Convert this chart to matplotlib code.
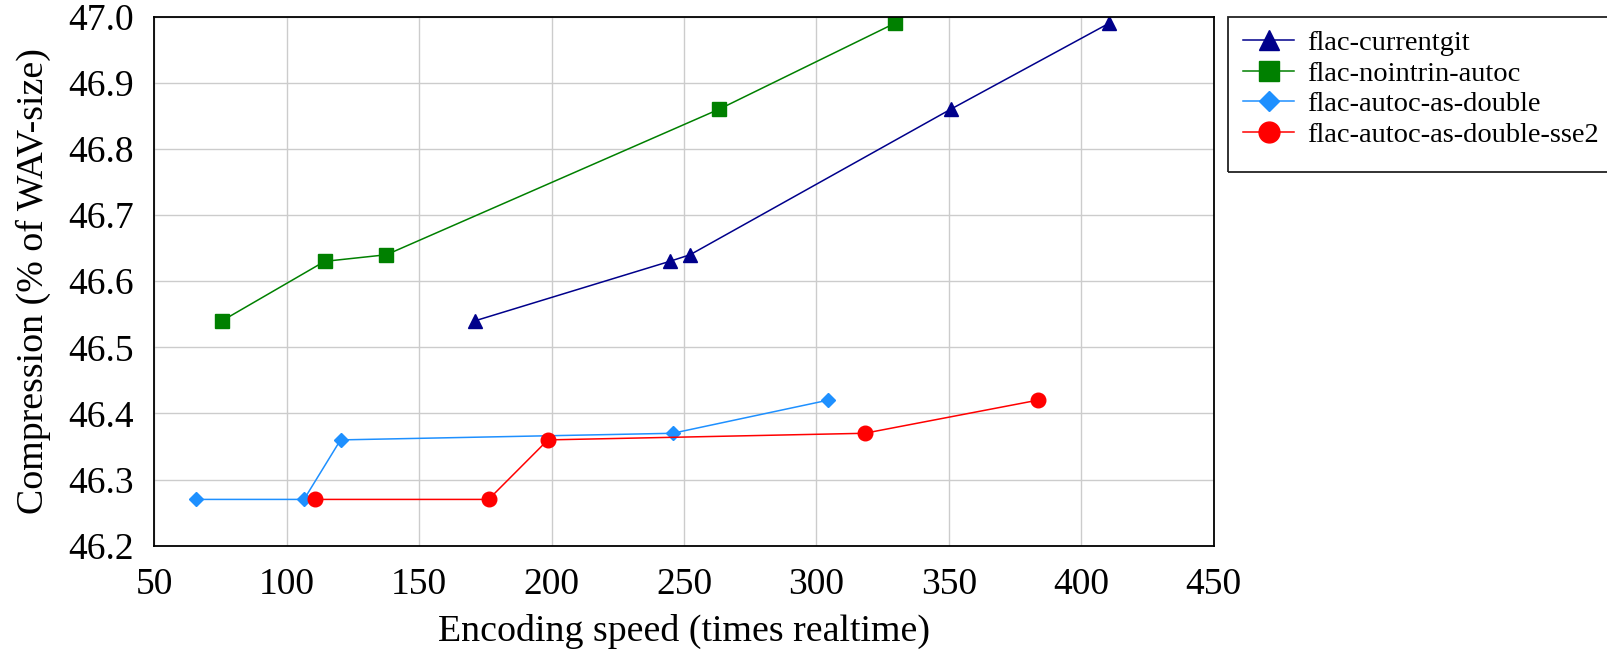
import numpy as np
import matplotlib
matplotlib.use('Agg')
import matplotlib.pyplot as plt
from matplotlib.patches import Rectangle

# series
speed_currentgit = [171, 244.6, 252.3, 350.7, 410.5]
comp_currentgit = [46.54, 46.63, 46.64, 46.86, 46.99]

speed_nointrin = [75.5, 114.3, 137.6, 263.2, 329.6]
comp_nointrin = [46.54, 46.63, 46.64, 46.86, 46.99]

speed_double = [65.8, 106.5, 120.3, 245.7, 304.3]
comp_double = [46.27, 46.27, 46.36, 46.37, 46.42]

speed_sse2 = [110.7, 176.2, 198.6, 318.2, 383.5]
comp_sse2 = [46.27, 46.27, 46.36, 46.37, 46.42]

labels = ['flac-currentgit', 'flac-nointrin-autoc',
          'flac-autoc-as-double', 'flac-autoc-as-double-sse2']

plt.rcParams['font.family'] = ['Liberation Serif', 'DejaVu Serif']
plt.rcParams['font.size'] = 26

W, H = 1608, 651
fig = plt.figure(figsize=(W / 100, H / 100), dpi=100)
ax = fig.add_axes([154.4 / W, 1 - 545.7 / H, (1213.6 - 154.4) / W, (545.7 - 16.7) / H])

ax.plot(speed_currentgit, comp_currentgit, '-^', color='#00008B', lw=1.1, ms=10.5, label=labels[0])
ax.plot(speed_nointrin, comp_nointrin, '-s', color='#008000', lw=1.1, ms=10.5, label=labels[1])
ax.plot(speed_double, comp_double, '-D', color='#1E90FF', lw=1.1, ms=7.2, label=labels[2])
ax.plot(speed_sse2, comp_sse2, '-o', color='#FF0000', lw=1.1, ms=10.5, label=labels[3])

ax.set_xlim(50, 450)
ax.set_ylim(46.2, 47.0)
ax.set_xticks(np.arange(50, 451, 50))
ax.set_yticks(np.arange(46.2, 47.01, 0.1))
ax.set_yticklabels(['%.1f' % v for v in np.arange(46.2, 47.01, 0.1)])
ax.tick_params(length=0, labelsize=27)
ax.tick_params(axis='x', pad=16)
ax.tick_params(axis='y', pad=15)
ax.grid(True, color='#cccccc', lw=1.0)
ax.set_axisbelow(True)
for s in ax.spines.values():
    s.set_linewidth(1.3)

ax.set_xlabel('Encoding speed (times realtime)', fontsize=27.3, labelpad=8)
ax.set_ylabel('Compression (% of WAV-size)', fontsize=27.3, labelpad=12)

# legend outside, frame drawn by hand (reference box runs past the right edge)
leg = ax.legend(loc='upper left', bbox_to_anchor=(1227.7 / W, 1 - 14.5 / H),
                bbox_transform=fig.transFigure, borderaxespad=0,
                fontsize=20.5, frameon=False, markerscale=1.43,
                handlelength=1.78, labelspacing=0.16, borderpad=0.55, handletextpad=0.45)
fig.patches.append(Rectangle((1227.7 / W, 1 - 171.7 / H), (W + 10 - 1227.7) / W, (171.7 - 17.3) / H,
                             transform=fig.transFigure, fill=False, edgecolor='#222222', lw=1.3))

fig.savefig('out.png', dpi=100)
